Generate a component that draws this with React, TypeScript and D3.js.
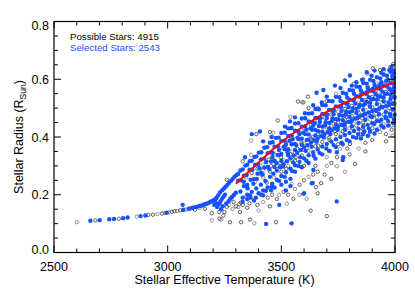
import React from 'react';
import * as d3 from 'd3';

// tick values
const xMajorTicks = [2500, 3000, 3500, 4000];
const xMinorTicks = d3.range(2500, 4001, 100);
const yMajorTicks = [0, 0.2, 0.4, 0.6, 0.8];
const yMinorTicks = d3.range(0, 0.801, 0.05);

const possibleCount = 4915;
const selectedCount = 2543;

// red fit line
const fitTeff = [3300, 3400, 3500, 3600, 3700, 3800, 3900, 4000];
const fitRadius = [0.238, 0.312, 0.382, 0.438, 0.487, 0.526, 0.56, 0.59];

// possible stars (Teff, radius)
const possibleStars: [number, number][] = [
  [2600,.105],[2682,.111],[2785,.117],[2864,.124],[2915,.13],[2935,.131],[2955,.133],[2975,.135],[2990,.137],[3005,.139],
  [3018,.141],[3030,.143],[3042,.144],[3055,.146],[3068,.147],[3080,.149],[3092,.151],[3104,.153],[3116,.156],[3128,.158],
  [3138,.16],[3148,.162],[3158,.165],[3168,.168],[3176,.17],[3185,.174],[3194,.178],[3203,.182],[3212,.186],[3164,.151],
  [3140,.153],[3120,.148],
  [3194,.136],[3194,.111],[3227,.14],[3228,.117],[3236,.114],[3274,.105],[3323,.105],[3381,.101],[3362,.114],[3477,.105],
  [3524,.169],[3553,.186],[3597,.203],[3611,.186],[3629,.145],[3700,.126],[3545,.238],[3652,.226],[3675,.24],[3744,.299],
  [3824,.307],[3318,.14],[3311,.157],[3322,.173],[3330,.165],[3315,.168],[3300,.16],[3290,.175],[3270,.165],[3260,.158],
  [3280,.19],[3345,.195],[3360,.17],[3395,.165],[3420,.175],[3440,.19],[3460,.2],[3490,.2],[3510,.21],[3530,.2],
  [3560,.22],[3580,.235],[3600,.25],[3620,.262],[3640,.27],[3660,.28],[3700,.3],[3720,.31],[3690,.27],[3770,.33],
  [3800,.34],[3790,.36],[3840,.36],[3870,.38],[3900,.39],[3934,.417],[3960,.41],[3985,.425],[3990,.405],[3883,.405],
  [3802,.376],[3758,.359],[3714,.35],[3745,.33],
  [3345,.26],[3370,.275],[3395,.29],[3420,.305],[3445,.322],[3470,.34],[3495,.362],[3520,.38],[3545,.398],[3575,.415],
  [3600,.43],[3630,.443],[3660,.455],[3690,.467],[3720,.478],[3750,.488],[3780,.498],[3810,.508],[3840,.518],[3870,.528],
  [3900,.538],[3930,.547],[3960,.556],[3990,.565],
  [3420,.26],[3450,.28],[3480,.3],[3510,.32],[3540,.34],[3570,.36],[3600,.378],[3630,.395],[3660,.41],[3690,.425],
  [3720,.438],[3750,.45],[3780,.462],[3810,.473],[3840,.484],[3870,.494],[3900,.503],[3930,.512],[3960,.52],[3990,.528],
  [3500,.28],[3530,.3],[3560,.318],[3590,.336],[3620,.352],[3650,.368],[3680,.383],[3710,.397],[3740,.41],[3770,.42],
  [3800,.43],[3830,.44],[3860,.45],[3890,.46],[3920,.468],[3950,.477],[3980,.486],
  [3850,.42],[3900,.43],[3950,.445],[3990,.45],[3880,.575],[3920,.585],[3960,.59],[3990,.6],[3850,.56],
  [3484,.457],[3573,.523],[3591,.52],[3617,.54],[3597,.52],[3367,.388],[3390,.41],[3450,.417],[3465,.415],[3260,.252],
  [3330,.316],[3367,.338],[3902,.638],[3934,.632],[3878,.619],[3993,.653],[3980,.642],[3950,.628],[3860,.6],[3820,.585],
  [3740,.55],[3700,.525],[3660,.5],[3540,.47],[3620,.5],
  [3350,.225],[3385,.245],[3412,.27],[3436,.242],[3468,.26],[3498,.33],[3522,.29],[3547,.35],[3563,.33],[3588,.38],
  [3612,.36],[3637,.4],[3662,.37],[3688,.44],[3712,.39],[3738,.455],[3762,.41],[3787,.47],[3812,.43],[3837,.495],
  [3862,.44],[3888,.51],[3912,.45],[3938,.53],[3962,.465],[3988,.545],[3915,.56],[3945,.575],[3975,.58],[3995,.59],
  [3870,.47],[3925,.49],[3975,.5],[3998,.515],[3955,.5],[3905,.475],[3855,.465],[3820,.455],[3780,.435],[3735,.42],
  [3700,.405],[3652,.385],[3600,.355],[3545,.32],[3495,.31],[3455,.3],[3420,.285],[3600,.3],[3650,.3],[3700,.33],
  [3750,.375],[3850,.4],[3930,.43],[3985,.44],[3250,.14],[3285,.15],[3245,.128],[3350,.155],[3400,.145],[3450,.16],
  [3480,.185],[3580,.2],[3660,.205],[3720,.255],[3780,.28],[3870,.35],[3960,.385],
];

// selected stars (Teff, radius)
const selectedStars: [number, number][] = [
  // cool sequence
  [2660,.110],[2701,.112],[2743,.115],[2764,.116],[2804,.119],[2824,.121],[2881,.126],[2902,.128],[2996,.138],[3069,.148],
  [3066,.165],[3095,.152],[3110,.155],[3125,.158],[3140,.161],[3150,.163],[3160,.166],[3170,.169],[3180,.172],[3190,.176],
  [3200,.180],[3210,.184],
  // fan near 3200-3300 K
  [3205,.165],[3212,.172],[3215,.19],[3222,.198],[3218,.158],[3225,.168],[3232,.176],[3238,.185],[3245,.192],[3252,.2],
  [3230,.208],[3240,.216],[3248,.222],[3255,.228],[3262,.234],[3270,.241],[3278,.248],[3286,.255],[3294,.262],[3302,.268],
  [3235,.15],[3242,.16],[3258,.17],[3268,.178],[3276,.186],[3284,.193],[3292,.2],[3300,.207],
  // upper strand
  [3310,.272],[3320,.284],[3330,.288],[3342,.301],[3350,.304],[3361,.316],[3370,.318],[3382,.331],[3390,.333],[3401,.346],
  [3412,.347],[3425,.363],[3438,.365],[3450,.38],[3462,.382],[3475,.397],[3488,.398],[3500,.414],[3515,.415],[3530,.43],
  [3545,.431],[3560,.447],[3575,.448],[3590,.464],[3605,.465],[3620,.481],[3635,.482],[3650,.497],[3665,.496],[3680,.511],
  [3695,.51],[3710,.525],[3725,.524],[3740,.539],[3755,.538],[3770,.553],[3785,.55],[3800,.563],[3815,.561],[3830,.575],
  [3845,.573],[3860,.587],[3875,.585],[3890,.598],[3905,.594],[3920,.607],[3935,.603],[3950,.616],[3965,.612],[3980,.626],
  [3995,.622],
  // along the fit
  [3310,.249],[3322,.25],[3335,.266],[3348,.268],[3360,.287],[3372,.287],[3385,.304],[3398,.305],[3410,.322],[3425,.325],
  [3440,.344],[3455,.347],[3470,.366],[3485,.368],[3500,.386],[3515,.387],[3530,.404],[3545,.405],[3560,.422],[3575,.421],
  [3590,.436],[3605,.437],[3620,.454],[3635,.452],[3650,.466],[3665,.465],[3680,.48],[3695,.479],[3710,.494],[3725,.492],
  [3740,.506],[3755,.505],[3770,.519],[3785,.516],[3800,.529],[3815,.527],[3830,.541],[3845,.539],[3860,.552],[3875,.549],
  [3890,.562],[3905,.558],[3920,.57],[3935,.566],[3950,.578],[3965,.575],[3980,.587],[3995,.584],
  // below the fit
  [3320,.211],[3335,.23],[3350,.234],[3365,.252],[3380,.254],[3395,.273],[3410,.276],[3425,.294],[3440,.296],[3455,.315],
  [3470,.318],[3485,.338],[3500,.341],[3515,.358],[3530,.358],[3545,.375],[3560,.376],[3575,.393],[3590,.394],[3605,.41],
  [3620,.409],[3635,.425],[3650,.424],[3665,.438],[3680,.436],[3695,.451],[3710,.449],[3725,.464],[3740,.462],[3755,.476],
  [3770,.474],[3785,.488],[3800,.486],[3815,.5],[3830,.498],[3845,.512],[3860,.509],[3875,.522],[3890,.519],[3905,.532],
  [3920,.529],[3935,.541],[3950,.537],[3965,.55],[3980,.546],[3995,.559],
  [3330,.19],[3350,.2],[3370,.21],[3390,.222],[3410,.235],[3430,.248],[3450,.262],[3465,.273],[3480,.284],[3495,.295],
  [3510,.306],[3525,.316],[3540,.326],[3555,.336],[3570,.345],[3585,.355],[3600,.364],[3615,.372],[3630,.38],[3645,.388],
  [3660,.395],[3675,.403],[3690,.41],[3705,.417],[3720,.423],[3735,.43],[3750,.436],[3765,.442],[3780,.448],[3795,.453],
  [3810,.458],[3825,.464],[3840,.47],[3855,.475],[3870,.48],[3885,.485],[3900,.49],[3915,.494],[3930,.498],[3945,.503],
  [3960,.507],[3975,.511],[3990,.515],
  [3400,.205],[3420,.215],[3440,.225],[3460,.238],[3480,.252],[3500,.265],[3520,.278],[3540,.29],[3560,.302],[3580,.314],
  [3600,.326],[3620,.337],[3640,.347],[3660,.357],[3680,.367],[3700,.376],[3720,.384],[3740,.392],[3760,.4],[3780,.407],
  [3800,.414],[3820,.421],[3840,.428],[3860,.435],[3880,.442],[3900,.448],[3920,.455],[3940,.46],[3960,.466],[3980,.472],
  [3998,.477],
  [3560,.28],[3590,.295],[3620,.31],[3650,.325],[3680,.34],[3710,.352],[3740,.365],[3770,.375],[3800,.385],[3830,.397],
  [3860,.41],[3890,.418],[3920,.425],[3950,.433],[3970,.44],[3995,.45],
  // dense hot end
  [3760,.525],[3790,.537],[3820,.55],[3850,.561],[3880,.57],[3910,.58],[3940,.59],[3970,.598],[3990,.605],[3765,.49],
  [3795,.503],[3825,.516],[3855,.528],[3885,.538],[3915,.548],[3945,.557],[3975,.566],[3995,.572],[3770,.458],[3800,.47],
  [3830,.483],[3860,.494],[3890,.505],[3920,.514],[3950,.523],[3980,.532],[3998,.537],[3780,.425],[3810,.437],[3840,.449],
  [3870,.46],[3900,.47],[3930,.479],[3960,.487],[3990,.495],[3850,.395],[3880,.404],[3910,.412],[3940,.44],[3970,.455],
  [3995,.462],
  [3460,.33],[3490,.355],[3520,.373],[3550,.392],[3580,.41],[3610,.425],[3640,.439],[3670,.452],[3700,.466],[3730,.479],
  [3470,.296],[3500,.318],[3530,.337],[3560,.355],[3590,.373],[3620,.391],[3650,.405],[3680,.418],[3710,.43],[3740,.442],
  // scattered inside the band
  [3335,.245],[3352,.222],[3377,.238],[3392,.255],[3404,.292],[3418,.27],[3433,.313],[3447,.288],[3462,.345],[3478,.31],
  [3491,.338],[3507,.298],[3512,.366],[3527,.348],[3536,.387],[3552,.312],[3566,.372],[3571,.398],[3583,.33],[3596,.415],
  [3607,.352],[3612,.39],[3628,.43],[3633,.366],[3647,.448],[3656,.384],[3663,.42],[3672,.465],[3687,.398],[3693,.44],
  [3702,.478],[3716,.41],[3722,.455],[3731,.492],[3748,.425],[3752,.462],[3763,.505],[3776,.44],[3783,.478],[3791,.517],
  [3806,.452],[3812,.49],[3819,.529],[3834,.465],[3842,.505],[3848,.545],[3863,.478],[3868,.515],[3877,.556],[3892,.472],
  [3896,.53],[3903,.567],[3918,.49],[3926,.54],[3932,.58],[3942,.505],[3955,.55],[3962,.595],[3972,.52],[3983,.56],
  [3988,.612],[3996,.54],[3978,.48],[3958,.47],[3933,.455],[3908,.445],[3885,.43],[3865,.42],[3838,.41],[3815,.4],
  [3788,.39],[3765,.38],[3730,.372],[3698,.36],[3668,.345],[3642,.335],[3610,.318],[3575,.3],[3547,.282],[3515,.262],
  [3490,.248],[3458,.228],[3432,.214],[3412,.2],[3388,.19],[3362,.198],[3996,.605],[3992,.63],[3975,.632],[3940,.622],
  [3897,.612],[3855,.598],[3810,.578],
  // outliers above
  [3370,.41],[3406,.419],[3457,.40],[3516,.436],[3538,.454],[3604,.482],[3655,.553],[3685,.563],[3736,.578],[3780,.596],
  [3802,.613],[3876,.624],[3985,.642],[3678,.52],[3560,.468],[3640,.51],[3700,.54],[3760,.57],[3830,.59],[3910,.63],
  [3950,.635],[3340,.33],[3420,.385],
  // outliers below
  [3545,.101],[3433,.099],[3491,.165],[3600,.205],[3638,.241],[3641,.286],[3634,.24],[3744,.177],[3770,.32],
  [3744,.347],[3773,.33],[3330,.175],[3350,.185],[3365,.19],[3380,.18],[3420,.198],[3455,.215],[3470,.225],[3500,.235],
  [3520,.245],[3540,.255],[3520,.215],[3540,.23],
];

const W = 415;
const H = 297;
const left = 54, right = 395, top = 21.5, bottom = 252.5;

const App: React.FC = () => {
  const x = d3.scaleLinear().domain([2500, 4000]).range([left, right]);
  const y = d3.scaleLinear().domain([0, 0.8]).range([bottom, top]);

  const fitLine = d3.line<number>()
    .x((_, i) => x(fitTeff[i]))
    .y(d => y(d))
    .curve(d3.curveMonotoneX);

  const font = '"Liberation Sans", Arial, Helvetica, sans-serif';
  const blue = '#1652ff';

  return (
    <svg width={W} height={H} style={{ position: 'absolute', left: 0, top: 0, background: '#fff' }}
      fontFamily={font}>
      {/* possible stars */}
      <g fill="none" stroke="#333" strokeWidth={0.9}>
        {possibleStars.map((d, i) => (
          <circle key={i} cx={x(d[0])} cy={y(d[1])} r={1.7} strokeOpacity={i % 3 === 0 ? 0.55 : 0.85} />
        ))}
      </g>
      {/* selected stars */}
      <g fill={blue}>
        {selectedStars.map((d, i) => (
          <circle key={i} cx={x(d[0])} cy={y(d[1])} r={2.2} />
        ))}
      </g>
      <path d={fitLine(fitRadius) || ''} fill="none" stroke="#ff0000" strokeWidth={2} />

      {/* frame */}
      <rect x={left} y={top} width={right - left} height={bottom - top} fill="none" stroke="#000" strokeWidth={1.2} />
      <g stroke="#000" strokeWidth={1}>
        {xMinorTicks.map(t => {
          const len = xMajorTicks.includes(t) ? 7 : 4;
          return (
            <g key={'x' + t}>
              <line x1={x(t)} x2={x(t)} y1={bottom} y2={bottom - len} />
              <line x1={x(t)} x2={x(t)} y1={top} y2={top + len} />
            </g>
          );
        })}
        {yMinorTicks.map((t, i) => {
          const len = i % 4 === 0 ? 7 : 4;
          return (
            <g key={'y' + i}>
              <line x1={left} x2={left + len} y1={y(t)} y2={y(t)} />
              <line x1={right} x2={right - len} y1={y(t)} y2={y(t)} />
            </g>
          );
        })}
      </g>

      {/* tick labels */}
      <g fontSize={12.5} fill="#000">
        {xMajorTicks.map(t => (
          <text key={t} x={x(t)} y={271} textAnchor="middle">{t}</text>
        ))}
        {yMajorTicks.map(t => (
          <text key={t} x={49} y={Math.min(Math.max(y(t), top + 4), bottom - 3)} dy="0.36em" textAnchor="end">
            {t.toFixed(1)}
          </text>
        ))}
      </g>

      {/* axis titles */}
      <text x={(left + right) / 2} y={284} textAnchor="middle" fontSize={12.5}>Stellar Effective Temperature (K)</text>
      <text transform={`translate(23,137) rotate(-90)`} textAnchor="middle" fontSize={12.5}>
        Stellar Radius (R<tspan fontSize={8.5} dy={3}>Sun</tspan><tspan dy={-3}>)</tspan>
      </text>

      {/* legend */}
      <text x={70} y={40} fontSize={9.7} fill="#000">Possible Stars: {possibleCount}</text>
      <text x={70} y={50.5} fontSize={9.7} fill={blue}>Selected Stars: {selectedCount}</text>
    </svg>
  );
};

export default App;
